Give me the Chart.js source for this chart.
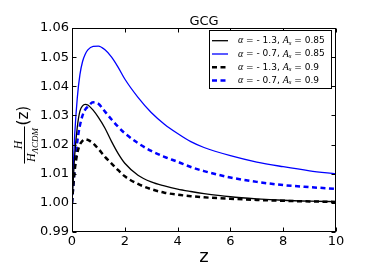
<!DOCTYPE html>
<html>
<head>
<meta charset="utf-8">
<script src="https://cdn.jsdelivr.net/npm/chart.js@4/dist/chart.umd.min.js"></script>
<style>
  html, body { margin: 0; padding: 0; background: #fff; }
</style>
</head>
<body>
<canvas id="grafikGCG" width="374" height="280"></canvas>
<script>
// ---- data ----
const zs = [0, 0.05, 0.1, 0.2, 0.3, 0.4, 0.5, 0.6, 0.8, 1.0, 1.25, 1.5, 1.75, 2.0, 2.5, 3.0, 3.5, 4.0, 4.5, 5.0, 6.0, 7.0, 8.0, 9.0, 10];

// alpha = -1.3, As = 0.85 (black solid)
const hBlack085 = [1.000, 1.008, 1.016, 1.026, 1.0315, 1.0333, 1.0338, 1.0336, 1.0318, 1.0293, 1.0256, 1.0210, 1.0169, 1.0136, 1.0095, 1.0072, 1.0058, 1.0047, 1.0039, 1.0032, 1.0021, 1.0014, 1.0009, 1.0006, 1.0004];
// alpha = -0.7, As = 0.85 (blue solid)
const hBlue085 = [1.000, 1.013, 1.023, 1.036, 1.044, 1.0485, 1.051, 1.0525, 1.0537, 1.0538, 1.0525, 1.050, 1.0465, 1.0425, 1.0362, 1.031, 1.027, 1.0238, 1.021, 1.019, 1.0162, 1.014, 1.0124, 1.011, 1.0099];
// alpha = -1.3, As = 0.9 (black dashed)
const hBlack09 = [1.000, 1.006, 1.011, 1.017, 1.020, 1.0213, 1.0218, 1.0216, 1.0204, 1.0185, 1.0158, 1.0135, 1.0112, 1.0091, 1.0065, 1.0047, 1.0035, 1.0028, 1.0023, 1.0019, 1.0014, 1.0010, 1.0007, 1.0005, 1.0003];
// alpha = -0.7, As = 0.9 (blue dashed)
const hBlue09 = [1.000, 1.006, 1.012, 1.021, 1.0265, 1.030, 1.032, 1.033, 1.0345, 1.0340, 1.0313, 1.0286, 1.0261, 1.0239, 1.0205, 1.0178, 1.0158, 1.0141, 1.0123, 1.0109, 1.0087, 1.0072, 1.0061, 1.0054, 1.0048];

const alphaLabels = ["- 1.3", "- 0.7", "- 1.3", "- 0.7"];
const asLabels = ["0.85", "0.85", "0.9", "0.9"];

const xTicks = [0, 2, 4, 6, 8, 10];
const yTicks = [0.99, 1.00, 1.01, 1.02, 1.03, 1.04, 1.05, 1.06];

const SANS = '"DejaVu Sans"';
const SERIF = '"Liberation Serif"';

function pts(arr) {
    return zs.map((z, i) => ({ x: z, y: arr[i] }));
}

/* ---------- frame + inward ticks on all four sides ---------- */
const framePlugin = {
    id: "frame",
    afterDatasetsDraw(chart) {
        const { ctx, chartArea: a, scales } = chart;
        const L = Math.round(a.left) + 0.5, R = Math.round(a.right) - 0.5;
        const T = Math.round(a.top) + 0.5, B = Math.round(a.bottom) - 0.5;
        ctx.save();
        ctx.strokeStyle = "#000";
        ctx.lineWidth = 1;
        ctx.strokeRect(L, T, R - L, B - T);
        ctx.beginPath();
        xTicks.forEach(v => {
            const x = Math.round(scales.x.getPixelForValue(v)) + 0.5;
            ctx.moveTo(x, B); ctx.lineTo(x, B - 4);
            ctx.moveTo(x, T); ctx.lineTo(x, T + 4);
        });
        yTicks.forEach(v => {
            const y = Math.round(scales.y.getPixelForValue(v)) + 0.5;
            ctx.moveTo(L, y); ctx.lineTo(L + 4, y);
            ctx.moveTo(R, y); ctx.lineTo(R - 4, y);
        });
        ctx.stroke();
        ctx.restore();
    }
};

/* ---------- mixed math text helper ---------- */
function drawPieces(ctx, pieces, x, y) {
    pieces.forEach(p => {
        ctx.font = p.f;
        ctx.fillText(p.t, x, y + (p.dy || 0));
        x += ctx.measureText(p.t).width;
    });
    return x;
}

/* ---------- title, y label, legend ---------- */
const textPlugin = {
    id: "texts",
    afterDraw(chart) {
        const { ctx, chartArea: a } = chart;
        ctx.save();
        ctx.fillStyle = "#000";

        // title
        ctx.font = `13px ${SANS}`;
        ctx.textAlign = "center";
        ctx.textBaseline = "alphabetic";
        ctx.fillText("GCG", (a.left + a.right) / 2, 25);

        // y label: H / H_ΛCDM (z), rotated
        ctx.save();
        ctx.translate(24.5, 145);
        ctx.rotate(-Math.PI / 2);
        ctx.textAlign = "left";
        ctx.textBaseline = "alphabetic";
        ctx.font = `italic 12px ${SERIF}`;
        const wH = ctx.measureText("H").width;
        ctx.font = `italic 9px ${SERIF}`;
        const wSub = ctx.measureText("ΛCDM").width;
        const wDen = wH + wSub;
        const half = wDen / 2 + 1.5;
        ctx.fillRect(-half, -0.5, half * 2, 1);
        ctx.font = `italic 12px ${SERIF}`;
        ctx.fillText("H", -wH / 2, -3);
        drawPieces(ctx, [
            { t: "H", f: `italic 12px ${SERIF}` },
            { t: "ΛCDM", f: `italic 9px ${SERIF}`, dy: 2.5 }
        ], -wDen / 2, 10.5);
        ctx.font = `15px ${SANS}`;
        ctx.textBaseline = "middle";
        ctx.fillText("(z)", half + 1, 0);
        ctx.restore();

        // legend
        const bx = 209.5, by = 30.5, bw = 122, bh = 58;
        ctx.fillStyle = "#fff";
        ctx.fillRect(bx, by, bw, bh);
        ctx.strokeStyle = "#000";
        ctx.lineWidth = 1;
        ctx.strokeRect(bx, by, bw, bh);
        const rowY = [40.7, 54, 67.3, 80.6];
        chart.data.datasets.forEach((ds, i) => {
            const y = rowY[i];
            ctx.save();
            ctx.strokeStyle = ds.borderColor;
            ctx.lineWidth = ds.borderWidth;
            ctx.setLineDash(ds.borderDash || []);
            ctx.beginPath();
            ctx.moveTo(212, y);
            ctx.lineTo(228, y);
            ctx.stroke();
            ctx.restore();
            ctx.fillStyle = "#000";
            ctx.textAlign = "left";
            ctx.textBaseline = "middle";
            drawPieces(ctx, [
                { t: "α", f: `italic 10px ${SERIF}` },
                { t: " = " + alphaLabels[i] + ", ", f: `9px ${SANS}` },
                { t: "A", f: `italic 10px ${SERIF}` },
                { t: "s", f: `italic 7px ${SERIF}`, dy: 2 },
                { t: " = " + asLabels[i], f: `9px ${SANS}` }
            ], 238, y);
        });
        ctx.restore();
    }
};

const lineBase = { pointRadius: 0, cubicInterpolationMode: "monotone", fill: false };

new Chart(document.getElementById("grafikGCG").getContext("2d"), {
    type: "line",
    data: {
        datasets: [
            { ...lineBase, label: "a=-1.3 As=0.85", data: pts(hBlack085), borderColor: "#000000", borderWidth: 1.3 },
            { ...lineBase, label: "a=-0.7 As=0.85", data: pts(hBlue085), borderColor: "#0000ff", borderWidth: 1.3 },
            { ...lineBase, label: "a=-1.3 As=0.9", data: pts(hBlack09), borderColor: "#000000", borderWidth: 2.5, borderDash: [5, 3.5] },
            { ...lineBase, label: "a=-0.7 As=0.9", data: pts(hBlue09), borderColor: "#0000ff", borderWidth: 2.5, borderDash: [5, 3.5] }
        ]
    },
    options: {
        responsive: false,
        animation: false,
        layout: { padding: { top: 28, right: 38, left: 0, bottom: 0 } },
        plugins: { legend: { display: false }, tooltip: { enabled: false }, title: { display: false } },
        scales: {
            x: {
                type: "linear",
                min: 0, max: 10,
                afterBuildTicks: s => { s.ticks = xTicks.map(v => ({ value: v })); },
                afterFit: s => { s.height = 48; },
                grid: { display: false, drawTicks: false },
                border: { display: false },
                ticks: { color: "#000", font: { family: "DejaVu Sans", size: 13 }, padding: 2, maxRotation: 0 },
                title: { display: true, text: "z", color: "#000", font: { family: "DejaVu Sans", size: 18 }, padding: { top: 0, bottom: 12 } }
            },
            y: {
                type: "linear",
                min: 0.99, max: 1.06,
                afterBuildTicks: s => { s.ticks = yTicks.map(v => ({ value: v })); },
                afterFit: s => { s.width = 72; },
                grid: { display: false, drawTicks: false },
                border: { display: false },
                ticks: { color: "#000", font: { family: "DejaVu Sans", size: 13 }, padding: 3, callback: v => v.toFixed(2) }
            }
        }
    },
    plugins: [framePlugin, textPlugin]
});
</script>
</body>
</html>
